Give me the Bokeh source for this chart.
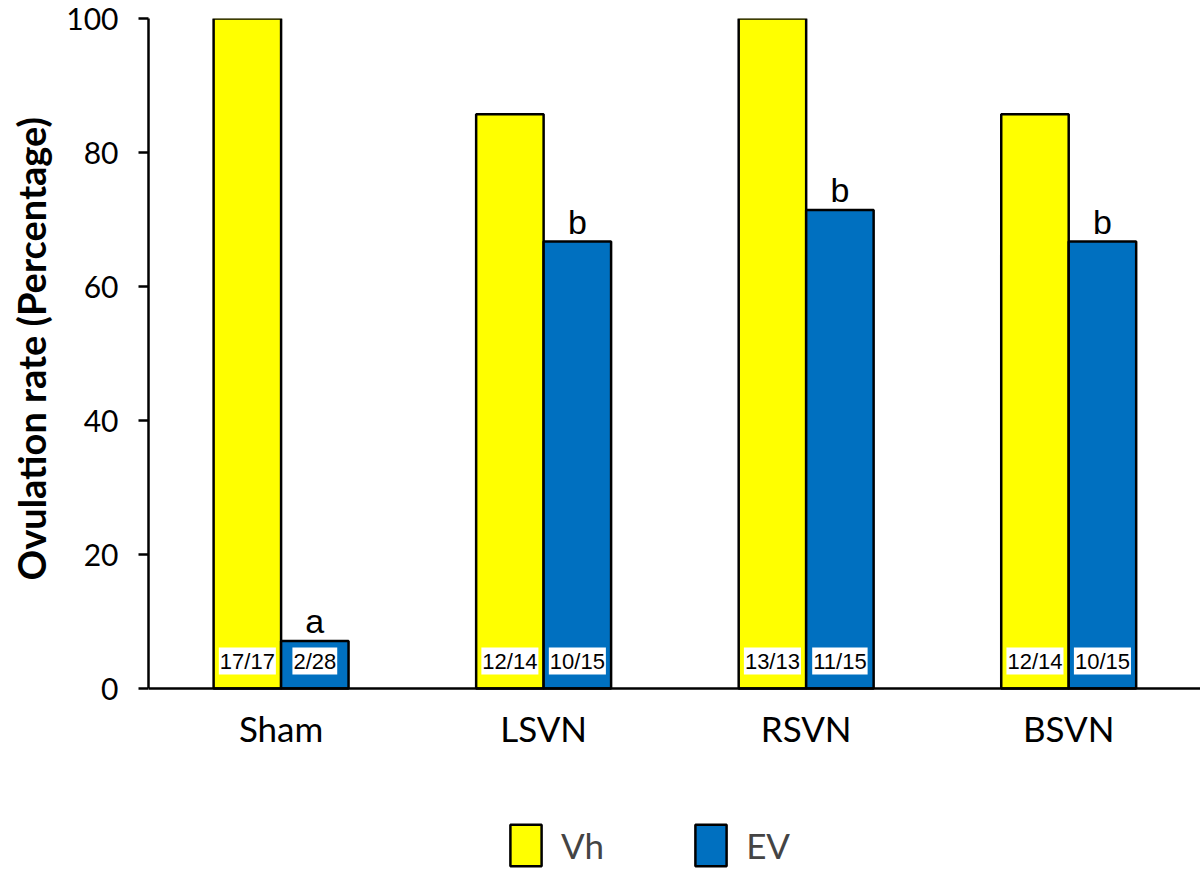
from bokeh.plotting import figure
from bokeh.models import Range1d, FixedTicker, Legend, LegendItem, ColumnDataSource, Title
from bokeh.transform import dodge
from bokeh.core.properties import value
from bokeh.embed import file_html
from bokeh.resources import INLINE

categories = ["Sham", "LSVN", "RSVN", "BSVN"]
vh_rate = [100, 85.7, 100, 85.7]
ev_rate = [7.1, 66.7, 71.4, 66.7]
vh_counts = ["17/17", "12/14", "13/13", "12/14"]
ev_counts = ["2/28", "10/15", "11/15", "10/15"]
ev_letters = ["a", "b", "b", "b"]
y_ticks = [0, 20, 40, 60, 80, 100]

src = ColumnDataSource(dict(
    x=list(range(len(categories))), cat=categories, vh=vh_rate, ev=ev_rate,
    vhc=vh_counts, evc=ev_counts, let=ev_letters,
))

# frame extends below the zero line so that the category labels and legend sit inside it
p = figure(width=1200, height=872, x_range=Range1d(-0.505, 3.502), y_range=Range1d(-27.46, 100),
           output_backend="svg", toolbar_location=None,
           min_border_left=145, min_border_right=0, min_border_top=18, min_border_bottom=0)
p.xgrid.visible = False
p.ygrid.visible = False
p.outline_line_color = None
p.background_fill_color = "white"

BW = 0.257
OFF = BW / 2
r1 = p.vbar(x=dodge("x", -OFF, range=p.x_range), top="vh", bottom=0, width=BW, source=src,
            fill_color="#FFFF00", line_color="black", line_width=2.5)
r2 = p.vbar(x=dodge("x", OFF, range=p.x_range), top="ev", bottom=0, width=BW, source=src,
            fill_color="#0070C0", line_color="black", line_width=2.5)

p.text(x=dodge("x", -OFF, range=p.x_range), y=4.1, text="vhc", source=src,
       text_align="center", text_baseline="middle", text_font=value("Liberation Sans"),
       text_font_size="22px", text_color="black", background_fill_color="white", padding=1)
p.text(x=dodge("x", OFF, range=p.x_range), y=4.1, text="evc", source=src,
       text_align="center", text_baseline="middle", text_font=value("Liberation Sans"),
       text_font_size="22px", text_color="black", background_fill_color="white", padding=1)
p.text(x=dodge("x", OFF, range=p.x_range), y="ev", text="let", source=src, y_offset=-20,
       text_align="center", text_baseline="alphabetic", text_font=value("Liberation Sans"),
       text_font_size="34px", text_color="black")

# y axis
p.yaxis.bounds = (0, 100)
p.yaxis.ticker = FixedTicker(ticks=y_ticks)
p.yaxis.major_tick_out = 10
p.yaxis.major_tick_in = 0
p.yaxis.minor_tick_line_color = None
p.yaxis.axis_line_width = 2.5
p.yaxis.major_tick_line_width = 2.5
p.yaxis.axis_line_color = "black"
p.yaxis.major_label_text_font = "Lato"
p.yaxis.major_label_text_font_size = "30px"
p.yaxis.major_label_text_color = "black"
p.yaxis.major_label_standoff = 20

# y axis title, centred on the 0-100 span
ytitle = Title(text="Ovulation rate (Percentage)", align="left", offset=292,
               vertical_align="top",
               text_font="Lato", text_font_style="bold", text_font_size="38px",
               text_color="black", standoff=15)
p.add_layout(ytitle, "left")

# x axis sits on the zero line
p.xaxis.fixed_location = 0
p.xaxis.ticker = FixedTicker(ticks=list(range(len(categories))))
p.xaxis.major_label_overrides = {i: c for i, c in enumerate(categories)}
p.xaxis.major_tick_out = 0
p.xaxis.major_tick_in = 0
p.xaxis.minor_tick_line_color = None
p.xaxis.axis_line_width = 2.5
p.xaxis.axis_line_color = "black"
p.xaxis.major_label_text_font = "Lato"
p.xaxis.major_label_text_font_size = "35px"
p.xaxis.major_label_text_color = "black"
p.xaxis.major_label_standoff = 18

legend = Legend(items=[LegendItem(label="Vh", renderers=[r1]), LegendItem(label="EV", renderers=[r2])],
                orientation="horizontal", location=(358, 1),
                glyph_width=39, glyph_height=52, label_text_font="Lato",
                label_text_font_size="35px", label_standoff=16, spacing=87,
                border_line_color=None, background_fill_alpha=0, padding=0, margin=0)
p.add_layout(legend, "center")

open("out.html", "w").write(file_html(p, INLINE))
